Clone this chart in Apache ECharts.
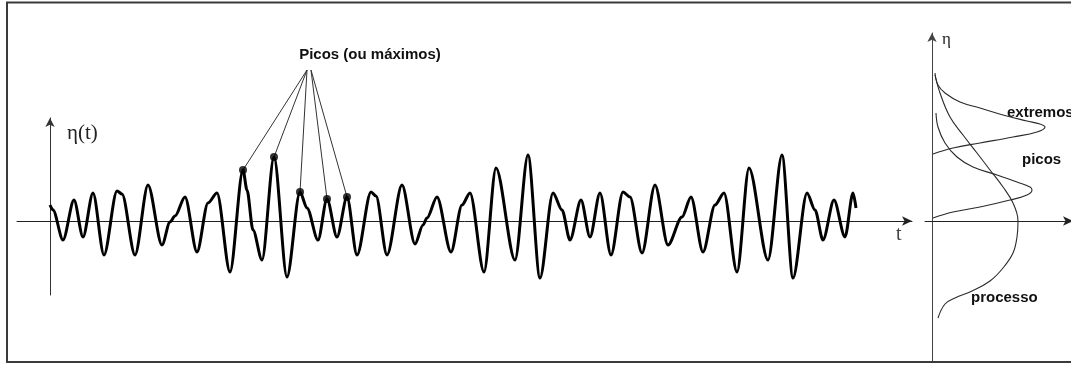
<!DOCTYPE html>
<html>
<head>
<meta charset="utf-8">
<script src="https://cdn.jsdelivr.net/npm/echarts@6/dist/echarts.min.js"></script>
<style>
  html, body { margin: 0; padding: 0; background: #fff; }
  #chart { width: 1071px; height: 367px; }
</style>
</head>
<body>
<div id="chart"></div>
<script>
// Sea-surface elevation record eta(t): turning points of the trace
const signalT = [0, 3, 13, 24, 33, 43, 54, 67, 72, 85, 98, 112, 120, 125, 135, 147, 158, 167, 180, 193,
  197, 203, 212, 224, 237, 250, 257, 268, 277, 287, 297, 307, 321, 326, 337, 352, 365, 373, 377, 387,
  401, 412, 420, 434, 446, 465, 478, 490, 503, 512, 520, 531, 540, 550, 561, 573, 580, 592, 605, 618,
  632, 641, 653, 665, 674, 687, 699, 718, 732, 743, 757, 765, 773, 784, 795, 803, 806];
const signalEta = [16, 11, -19, 21, -16, 28, -34, 30, 27, -34, 36, -24, -1, 5, 24, -31, 18, 28, -51, 51,
  31, -9, -39, 64, -56, 29, 13, -19, 22, -16, 24, -34, 29, 25, -34, 36, -23, -4, 3, 24,
  -31, 16, 28, -51, 53, -39, 66, -57, 28, 11, -19, 21, -16, 28, -34, 29, 24, -32, 36, -24,
  4, 24, -31, 16, 28, -51, 53, -39, 66, -57, 28, 11, -19, 21, -16, 28, 13];

// Highlighted local maxima ("picos")
const peakT = [193, 224, 250, 277, 297];
const peakEta = [51, 64, 29, 22, 24];

// Probability densities drawn against eta (density, eta)
const processDensity = [3, 8, 18, 31, 45, 58, 71, 81, 86, 85, 81, 71, 58, 40, 23, 13, 6];
const processEta = [146, 128, 104, 86, 68, 51, 34, 18, 0, -16, -32, -47, -60, -70, -77, -83, -97];
const peaksDensity = [4, 6, 13, 25, 41, 65, 85, 98, 100, 95, 78, 48, 21, 1];
const peaksEta = [108, 94, 78, 64, 54, 46, 39, 34, 31, 26, 21, 14, 9, 3];
const extremesDensity = [3, 6, 13, 28, 48, 71, 95, 108, 113, 105, 81, 48, 21, 1];
const extremesEta = [148, 136, 128, 119, 113, 106, 100, 97, 94, 89, 84, 78, 73, 67];

const zip = (a, b) => a.map((v, i) => [v, b[i]]);

const chart = echarts.init(document.getElementById('chart'), null, { renderer: 'canvas' });

const axisInk = '#222';
const sansBold = { fontFamily: '"Liberation Sans", Arial, sans-serif', fontWeight: 'bold', fontSize: 15, fill: '#111' };
const serif = { fontFamily: '"Liberation Serif", "DejaVu Serif", serif', fill: '#222' };

// Callout apex for the leader lines, in the trace's own units
const apexEta = 151;
const apexT = [257, 257, 257, 261, 261];

function hiddenBits(axis) {
  return Object.assign({
    axisTick: { show: false },
    axisLabel: { show: false },
    splitLine: { show: false }
  }, axis);
}

const option = {
  animation: false,
  backgroundColor: '#fff',
  grid: [
    { left: 17, right: 159, top: 118, bottom: 72, containLabel: false, outerBoundsMode: 'none' },
    { left: 925, right: -2, top: 33, bottom: 5, containLabel: false, outerBoundsMode: 'none' }
  ],
  xAxis: [
    hiddenBits({
      type: 'value', gridIndex: 0, min: -33, max: 862,
      axisLine: { show: true, onZero: true, symbol: ['none', 'arrow'], symbolSize: [7, 10],
        lineStyle: { color: axisInk, width: 1 } }
    }),
    hiddenBits({
      type: 'value', gridIndex: 1, min: -7, max: 141,
      axisLine: { show: true, onZero: true, symbol: ['none', 'arrow'], symbolSize: [7, 10],
        lineStyle: { color: axisInk, width: 1 } }
    })
  ],
  yAxis: [
    hiddenBits({
      type: 'value', gridIndex: 0, min: -74, max: 103,
      axisLine: { show: true, onZero: true, symbol: ['none', 'arrow'], symbolSize: [7, 9],
        lineStyle: { color: '#333', width: 1 } }
    }),
    hiddenBits({
      type: 'value', gridIndex: 1, min: -141, max: 188,
      axisLine: { show: true, onZero: true, symbol: ['none', 'arrow'], symbolSize: [7, 9],
        lineStyle: { color: '#444', width: 1 } }
    })
  ],
  series: [
    {
      name: 'eta(t)', type: 'line', xAxisIndex: 0, yAxisIndex: 0,
      data: zip(signalT, signalEta),
      showSymbol: false, smooth: 0.3, smoothMonotone: 'x',
      lineStyle: { color: '#000', width: 3 },
      z: 3
    },
    {
      name: 'leaders', type: 'lines', coordinateSystem: 'cartesian2d', xAxisIndex: 0, yAxisIndex: 0,
      clip: false,
      data: peakT.map((t, i) => ({ coords: [[apexT[i], apexEta], [t, peakEta[i]]] })),
      lineStyle: { color: '#333', width: 1, opacity: 1, curveness: 0 },
      z: 2
    },
    {
      name: 'picos', type: 'scatter', xAxisIndex: 0, yAxisIndex: 0,
      data: zip(peakT, peakEta),
      symbol: 'circle', symbolSize: 8,
      itemStyle: { color: '#000' },
      z: 4
    },
    {
      name: 'processo', type: 'line', xAxisIndex: 1, yAxisIndex: 1,
      data: zip(processDensity, processEta),
      showSymbol: false, smooth: 0.4,
      lineStyle: { color: '#2a2a2a', width: 1.1 }
    },
    {
      name: 'picos pdf', type: 'line', xAxisIndex: 1, yAxisIndex: 1,
      data: zip(peaksDensity, peaksEta),
      showSymbol: false, smooth: 0.4,
      lineStyle: { color: '#2a2a2a', width: 1.1 }
    },
    {
      name: 'extremos', type: 'line', xAxisIndex: 1, yAxisIndex: 1,
      data: zip(extremesDensity, extremesEta),
      showSymbol: false, smooth: 0.4,
      lineStyle: { color: '#2a2a2a', width: 1.1 }
    }
  ],
  graphic: [
    { type: 'rect', silent: true, z: 10,
      shape: { x: 7, y: 2.5, width: 1080, height: 359.5 },
      style: { fill: 'none', stroke: '#3a3a3a', lineWidth: 2 } },
    { type: 'text', x: 370, y: 55, silent: true,
      style: Object.assign({ text: 'Picos (ou máximos)', align: 'center', verticalAlign: 'middle' }, sansBold) },
    { type: 'text', x: 67, y: 133, silent: true,
      style: Object.assign({ text: 'η(t)', fontSize: 21, verticalAlign: 'middle' }, serif) },
    { type: 'text', x: 896, y: 235, silent: true,
      style: Object.assign({ text: 't', fontSize: 20, verticalAlign: 'middle', fill: '#444' }, { fontFamily: serif.fontFamily }) },
    { type: 'text', x: 942, y: 40, silent: true,
      style: Object.assign({ text: 'η', fontSize: 17, verticalAlign: 'middle' }, serif) },
    { type: 'text', x: 1007, y: 113, silent: true,
      style: Object.assign({ text: 'extremos', verticalAlign: 'middle' }, sansBold) },
    { type: 'text', x: 1022, y: 160, silent: true,
      style: Object.assign({ text: 'picos', verticalAlign: 'middle' }, sansBold) },
    { type: 'text', x: 971, y: 298, silent: true,
      style: Object.assign({ text: 'processo', verticalAlign: 'middle' }, sansBold) }
  ]
};

chart.setOption(option);
</script>
</body>
</html>
